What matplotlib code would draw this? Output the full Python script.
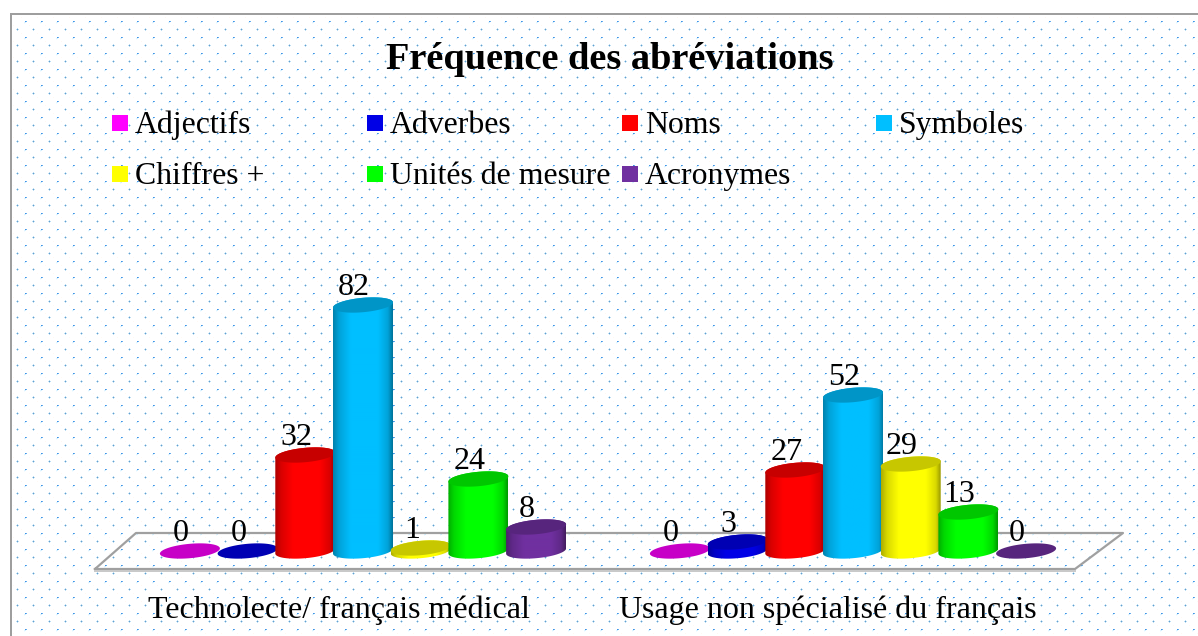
import numpy as np
import matplotlib
matplotlib.use('Agg')
import matplotlib.pyplot as plt
from matplotlib.patches import Polygon
from matplotlib.transforms import Affine2D

W, H = 1198, 636

title = 'Fréquence des abréviations'
categories = ['Technolecte/ français médical', 'Usage non spécialisé du français']
series = ['Adjectifs', 'Adverbes', 'Noms', 'Symboles', 'Chiffres +', 'Unités de mesure', 'Acronymes']
values_techno = [0, 0, 32, 82, 1, 24, 8]
values_usage = [0, 3, 27, 52, 29, 13, 0]
colors = ['#ff00ff', '#0000e6', '#ff0000', '#00bfff', '#ffff00', '#00ff00', '#7030a0']

plt.rcParams['font.family'] = ['Liberation Serif', 'DejaVu Serif']


def background():
    # repeating 16px dot pattern of the chart area, white outside the frame
    tile = np.ones((16, 16, 3))
    tile[13, 1] = (0.40, 0.62, 0.80)
    for a, b in [(12, 1), (14, 1), (13, 0), (13, 2)]:
        tile[a, b] = (0.74, 0.87, 0.95)
    tile[5, 9] = (0.25, 0.58, 0.90)
    tile[5, 10] = (0.40, 0.68, 0.93)
    tile[6, 9] = (0.82, 0.94, 1.0)
    tile[6, 8] = (0.88, 0.96, 1.0)
    tile[7, 8] = (0.95, 0.985, 1.0)
    tile[1, 5] = (1.0, 0.975, 0.95)
    tile[9, 13] = (1.0, 0.975, 0.95)
    yy, xx = np.mgrid[0:H, 0:W]
    img = tile[yy % 16, xx % 16]
    img[:13, :] = 1.0
    img[:, :10] = 1.0
    img[13:15, 10:] = 0.62
    img[13:, 10:12] = 0.62
    return img


def draw_cylinder(ax, cx, val, color, z):
    # one tilted cylinder, body shaded with a horizontal gradient
    rx = 30 / 490
    t = np.linspace(0, 2 * np.pi, 121)
    ex = cx + rx * np.cos(t)
    ey = (2.6 * np.cos(t) + 7.2 * np.sin(t)) / 3
    rgb = np.array(matplotlib.colors.to_rgb(color))
    if val > 0:
        lower = t[(t >= np.pi)]
        upper = t[(t <= np.pi)]
        bx = np.r_[cx + rx * np.cos(upper), cx + rx * np.cos(lower)]
        by = np.r_[val + (2.6 * np.cos(upper) + 7.2 * np.sin(upper)) / 3,
                   (2.6 * np.cos(lower) + 7.2 * np.sin(lower)) / 3]
        body = Polygon(np.c_[bx, by], closed=True, facecolor='none', edgecolor='none',
                       transform=ax.transData)
        ax.add_patch(body)
        u = np.linspace(0, 1, 120)
        shade = np.interp(u, [0, 0.1, 0.3, 0.75, 0.92, 1], [0.68, 0.85, 1, 1, 0.85, 0.6])
        grad = (shade[:, None] * rgb)[None, :, :]
        im = ax.imshow(grad, extent=(cx - rx, cx + rx, -4, val + 4), aspect='auto',
                       zorder=z, interpolation='bilinear')
        im.set_clip_path(body)
    ax.fill(ex, val + ey, color=rgb * 0.78, lw=0, zorder=z + 0.1)


fig = plt.figure(figsize=(W / 100, H / 100), dpi=100)
fig.figimage(background(), 0, 0, zorder=-1, origin='upper')

# axes over the whole figure: one category = 490px, one unit = 3px
ax = fig.add_axes([0, 0, 1, 1])
ax.patch.set_alpha(0)
ax.axis('off')
xlim = (-363 / 490, (W - 363) / 490)
ylim = ((551 - H) / 3, 551 / 3)

to_px = Affine2D().scale(1, -1).translate(0, H)

# floor of the 3D plot
floor_x = [95, 136, 1123, 1075, 95]
floor_y = [569, 533, 533, 569, 569]
ax.plot(floor_x, floor_y, color='#a0a0a0', lw=1.6, transform=to_px, zorder=1)
ax.plot([95, 1075], [571, 571], color='#c8c8c8', lw=1.4, transform=to_px, zorder=1)

step = 57.7 / 490
n = len(series)
label_dx = [-24, -25]
for i, vals in enumerate([values_techno, values_usage]):
    for j in range(n):
        cx = i + (j - (n - 1) / 2) * step
        draw_cylinder(ax, cx, vals[j], colors[j], 2 + i * 10 + j)
    for j in range(n):
        cx = i + (j - (n - 1) / 2) * step
        ax.annotate(str(vals[j]), (cx, vals[j]), xytext=(-9 * 0.72, 10 * 0.72),
                    textcoords='offset points', ha='center', va='baseline',
                    fontsize=23, color='black', zorder=40)
    ax.annotate(categories[i], (i, 0), xytext=(label_dx[i] * 0.72, -67 * 0.72),
                textcoords='offset points', ha='center', va='baseline', fontsize=23, zorder=40)

ax.set_xlim(xlim)
ax.set_ylim(ylim)

ax.text(610, 69, title, transform=to_px, ha='center', va='baseline', fontsize=27.6,
        fontweight='bold', zorder=40)

# legend, laid out by hand on two rows
leg_x = [112, 367, 622, 876]
leg_y = [123, 174]
for k, name in enumerate(series):
    lx = leg_x[k % 4]
    ly = leg_y[k // 4]
    ax.fill([lx, lx + 16, lx + 16, lx], [ly - 8, ly - 8, ly + 8, ly + 8], color=colors[k],
            lw=0, transform=to_px, zorder=40)
    ax.text(lx + 23, ly + 10, name, transform=to_px, ha='left', va='baseline', fontsize=22.9, zorder=40)

ax.set_xlim(xlim)
ax.set_ylim(ylim)
fig.savefig('out.png', dpi=100)
